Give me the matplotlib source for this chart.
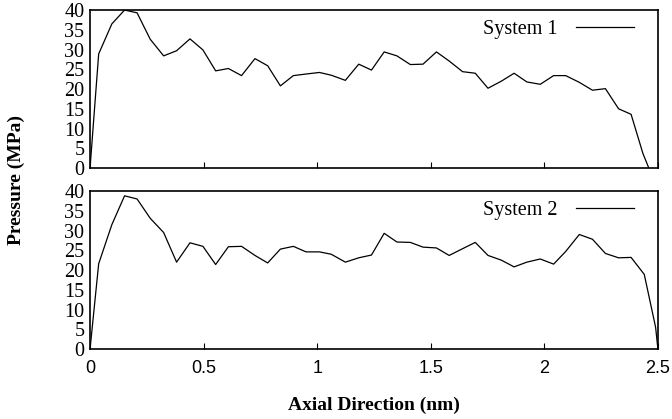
import matplotlib
matplotlib.use("Agg")
import matplotlib.pyplot as plt

# --- Data ---
x1 = [0.0, 0.038, 0.096, 0.152, 0.207, 0.265, 0.324, 0.381, 0.44, 0.497,
      0.553, 0.609, 0.667, 0.726, 0.782, 0.838, 0.895, 0.951, 1.01, 1.062,
      1.124, 1.183, 1.239, 1.295, 1.351, 1.41, 1.466, 1.525, 1.581, 1.64,
      1.696, 1.752, 1.811, 1.867, 1.923, 1.982, 2.041, 2.094, 2.154, 2.212,
      2.269, 2.327, 2.382, 2.434, 2.46]
p1 = [0, 28.9, 36.5, 40.0, 39.3, 32.6, 28.4, 29.7, 32.7, 29.9,
      24.6, 25.2, 23.4, 27.7, 25.9, 20.8, 23.4, 23.8, 24.2, 23.5,
      22.2, 26.3, 24.8, 29.4, 28.4, 26.2, 26.3, 29.4, 27.1, 24.4,
      24.0, 20.2, 22.0, 24.0, 21.8, 21.2, 23.4, 23.4, 21.7, 19.7,
      20.1, 15.0, 13.6, 3.7, 0]

x2 = [0.0, 0.038, 0.096, 0.152, 0.207, 0.265, 0.324, 0.381, 0.44, 0.497,
      0.553, 0.609, 0.667, 0.726, 0.782, 0.838, 0.895, 0.951, 1.01, 1.062,
      1.124, 1.183, 1.239, 1.295, 1.351, 1.41, 1.466, 1.525, 1.581, 1.64,
      1.696, 1.752, 1.811, 1.867, 1.923, 1.982, 2.041, 2.094, 2.154, 2.212,
      2.269, 2.327, 2.382, 2.44, 2.49, 2.5]
p2 = [0, 21.6, 31.5, 38.8, 38.0, 33.1, 29.5, 22.0, 26.9, 26.0,
      21.4, 25.9, 26.0, 23.7, 21.8, 25.3, 26.0, 24.6, 24.6, 24.0,
      22.0, 23.1, 23.8, 29.3, 27.1, 27.0, 25.8, 25.6, 23.7, 25.4,
      27.0, 23.7, 22.5, 20.8, 22.0, 22.8, 21.5, 24.7, 29.0, 27.8,
      24.2, 23.1, 23.2, 18.9, 5.5, 0]

series = [(x1, p1, "System 1"), (x2, p2, "System 2")]
x_ticks = [0, 0.5, 1, 1.5, 2, 2.5]
x_tick_labels = ["0", "0.5", "1", "1.5", "2", "2.5"]
y_ticks = [0, 5, 10, 15, 20, 25, 30, 35, 40]

serif = "Liberation Serif"
sans = "Liberation Sans"

fig = plt.figure(figsize=(6.72, 4.19), dpi=100)
ax_top = fig.add_axes([0.134, 0.599, 0.845, 0.377])
ax_bot = fig.add_axes([0.134, 0.167, 0.845, 0.377])

for ax, (xs, ys, name) in zip([ax_top, ax_bot], series):
    ax.plot(xs, ys, color="black", lw=0.9, label=name)
    ax.set_xlim(0, 2.5)
    ax.set_ylim(0, 40)
    ax.set_yticks(y_ticks)
    ax.set_yticklabels([str(v) for v in y_ticks], fontfamily=serif, fontsize=14.5)
    ax.set_xticks(x_ticks)
    ax.tick_params(axis="y", length=0, pad=4)
    ax.tick_params(axis="x", direction="in", length=4, width=0.8, pad=8)
    for s in ax.spines.values():
        s.set_linewidth(1.2)
    ax.legend(loc="upper right", bbox_to_anchor=(0.99, 1.055), frameon=False,
              markerfirst=False, handlelength=2.9, handletextpad=0.9,
              prop={"family": serif, "size": 14.5})

ax_top.set_xticklabels([])
ax_bot.set_xticklabels(x_tick_labels, fontfamily=sans, fontsize=13)

fig.text(0.025, 0.57, "Pressure (MPa)", rotation=90, ha="center", va="center",
         fontfamily=serif, fontweight="bold", fontsize=14)
fig.text(0.556, 0.032, "Axial Direction (nm)", ha="center", va="center",
         fontfamily=serif, fontweight="bold", fontsize=14)

fig.savefig("out.png", dpi=100)
